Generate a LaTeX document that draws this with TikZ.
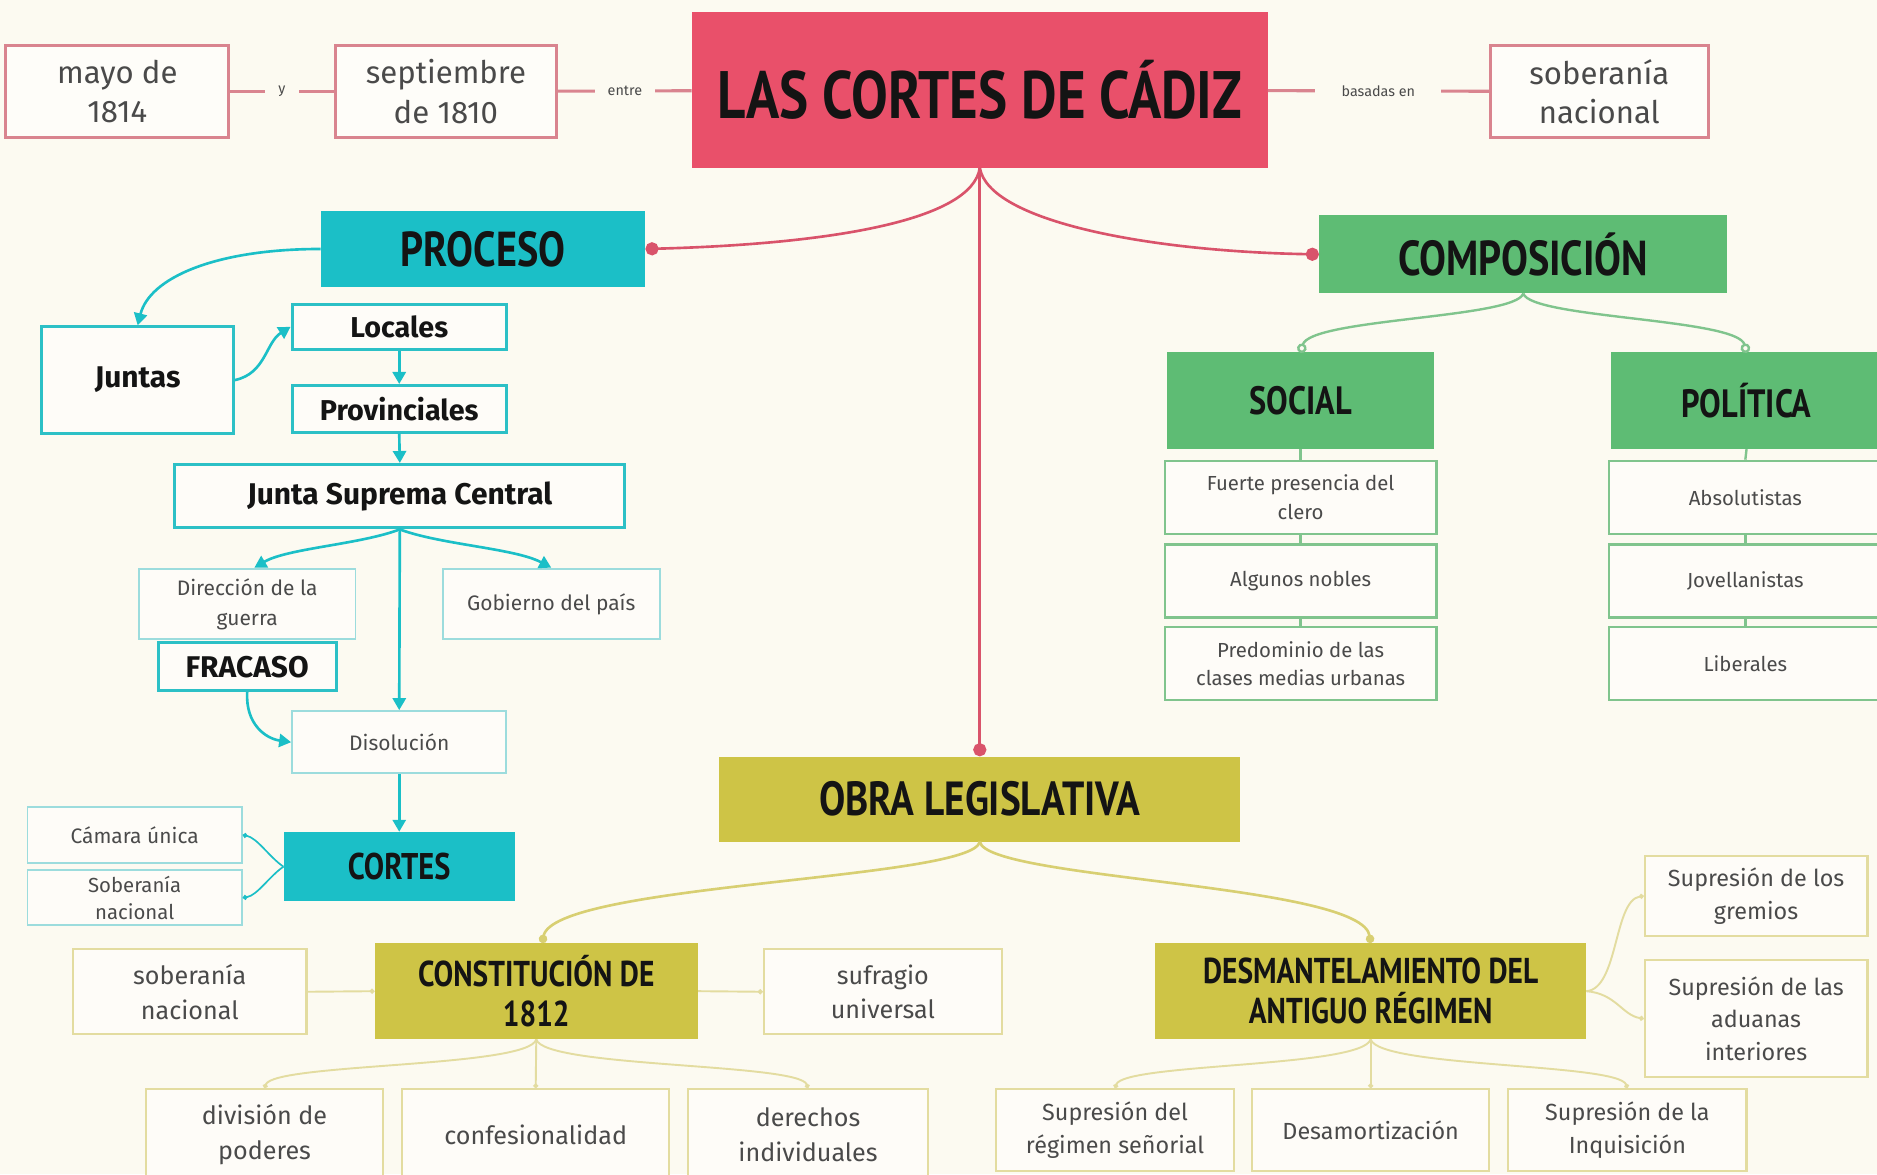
\documentclass[tikz,border=0pt]{standalone}
\usepackage{fontspec}
\setmainfont{Fira Sans}
\newfontfamily\hfont[FakeStretch=0.82]{PT Sans}
\usetikzlibrary{arrows.meta}
\definecolor{bg}{HTML}{FCFAF1}
\definecolor{redfill}{HTML}{E9506A}
\definecolor{redln}{HTML}{D9536B}
\definecolor{redbd}{HTML}{D9848F}
\definecolor{cyfill}{HTML}{1BBFC7}
\definecolor{cybd}{HTML}{2CC0C6}
\definecolor{cylt}{HTML}{9CDCDD}
\definecolor{grfill}{HTML}{5EBC74}
\definecolor{grbd}{HTML}{80C48D}
\definecolor{olfill}{HTML}{CEC446}
\definecolor{olbd}{HTML}{E3DCA0}
\definecolor{olln}{HTML}{D8CF72}
\definecolor{txt}{HTML}{4A4A4A}
\definecolor{htxt}{HTML}{141414}
\newcommand\fsz[2]{\fontsize{#1}{#2}\selectfont}
\tikzset{
  every node/.style={inner sep=0pt, align=center},
  redbox/.style={draw=redbd, line width=2.5pt, fill=white!60!bg, text=txt, font=\fsz{26}{33}},
  heada/.style={text=htxt, font=\hfont\bfseries},
  cybox/.style={draw=cybd, line width=2.5pt, fill=white!50!bg, text=htxt, font=\bfseries\fsz{25}{30}},
  cylbox/.style={draw=cylt, line width=1.6pt, fill=white!50!bg, text=txt, font=\fsz{17.5}{25}},
  grlbox/.style={draw=grbd, line width=2pt, fill=white!50!bg, text=txt, font=\fsz{17}{24}},
  ollbox/.style={draw=olbd, line width=1.8pt, fill=white!50!bg, text=txt, font=\fsz{21}{29}},
  lbl/.style={fill=bg, text=txt, font=\fsz{12}{14}, inner xsep=11pt, inner ysep=4pt},
  redc/.style={draw=redln, line width=2.2pt},
  topc/.style={draw=redbd, line width=2.6pt},
  cyc/.style={draw=cyfill, line width=2.2pt, -{Triangle[width=11pt,length=10pt]}},
  cyd/.style={draw=cyfill, line width=1.4pt, -{Circle[length=4pt]}},
  grc/.style={draw=grbd, line width=2pt},
  olc/.style={draw=olln, line width=2.2pt},
  olt/.style={draw=olbd, line width=1.6pt}
}
\begin{document}
\begin{tikzpicture}[x=1pt,y=-1pt]
\fill[bg] (0,0) rectangle (1568,981);
\useasboundingbox (0,0) rectangle (1568,981);

% ---------- top row ----------
\node[redbox, minimum width=186pt, minimum height=77pt] (mayo) at (98,76.5) {mayo de\\1814};
\node[redbox, minimum width=185pt, minimum height=77pt] (sept) at (372.5,76.5) {septiembre\\de 1810};
\node[fill=redfill, minimum width=481pt, minimum height=130pt, heada, font=\hfont\bfseries\fsz{56}{60}] (title) at (818.5,75) {LAS CORTES DE CÁDIZ};
\node[redbox, minimum width=182pt, minimum height=77pt] (sob) at (1336,76.5) {soberanía\\nacional};

\draw[topc] (mayo) -- node[lbl]{y} (sept);
\draw[topc] (sept) -- node[lbl]{entre} (title);
\draw[topc] (title) -- node[lbl, inner xsep=22pt]{basadas en} (sob);

% ---------- main branches ----------
\node[fill=cyfill, minimum width=271pt, minimum height=64pt, heada, font=\hfont\bfseries\fsz{41}{44}] (proceso) at (403.5,208) {PROCESO};
\node[fill=grfill, minimum width=341pt, minimum height=65pt, heada, font=\hfont\bfseries\fsz{41}{44}] (compo) at (1272.5,212.5) {COMPOSICIÓN};
\node[fill=olfill, minimum width=435pt, minimum height=71pt, heada, font=\hfont\bfseries\fsz{40}{44}] (obra) at (818.5,667.5) {OBRA LEGISLATIVA};

\draw[redc, -{Circle[length=11pt]}] (title.south) .. controls (812,185) and (690,204) .. (proceso.east);
\draw[redc, -{Circle[length=11pt]}] (title.south) .. controls (826,185) and (960,210) .. (compo.west);
\draw[redc, -{Circle[length=11pt]}] (title.south) -- (obra.north);

% ---------- PROCESO ----------
\node[cybox, minimum width=160pt, minimum height=89pt] (juntas) at (115,317.5) {Juntas};
\node[cybox, minimum width=179pt, minimum height=38pt, font=\bfseries\fsz{24}{28}] (locales) at (333.5,273) {Locales};
\node[cybox, minimum width=179pt, minimum height=39pt, font=\bfseries\fsz{24}{28}] (prov) at (333.5,341.5) {Provinciales};
\node[cybox, minimum width=376pt, minimum height=53pt] (jsc) at (334,414.5) {Junta Suprema Central};
\node[cylbox, minimum width=181pt, minimum height=59pt] (direc) at (206.5,504.5) {Dirección de la\\guerra};
\node[cylbox, minimum width=181pt, minimum height=59pt] (gob) at (460.5,504.5) {Gobierno del país};
\node[cybox, minimum width=149pt, minimum height=40pt] (fracaso) at (206.5,557) {FRACASO};
\node[cylbox, minimum width=179pt, minimum height=52pt] (disol) at (333.5,620) {Disolución};
\node[fill=cyfill, minimum width=193pt, minimum height=58pt, heada, font=\hfont\bfseries\fsz{31}{34}] (cortes) at (333.5,724) {CORTES};
\node[cylbox, minimum width=179pt, minimum height=47pt] (camara) at (112.5,697.5) {Cámara única};
\node[cylbox, minimum width=179pt, minimum height=46pt, font=\fsz{17}{23}] (sobc) at (112.5,750) {Soberanía\\nacional};

\draw[cyc] (proceso.west) .. controls (180,208) and (125,232) .. (juntas.north);
\draw[cyc] (juntas.east) .. controls (222,312) and (222,286) .. (locales.west);
\draw[cyc] (locales.south) -- (prov.north);
\draw[cyc] (prov.south) -- (jsc.north);
\draw[cyc] (jsc.south) .. controls (300,455) and (240,458) .. ([xshift=6pt]direc.north);
\draw[cyc] (jsc.south) .. controls (368,455) and (430,458) .. (gob.north);
\draw[cyc] (jsc.south) -- (disol.north);
\draw[cyc] (fracaso.south) .. controls (205,605) and (222,617) .. (disol.west);
\draw[cyc] (disol.south) -- (cortes.north);
\draw[cyd] (cortes.west) .. controls (225,716) and (215,700) .. (camara.east);
\draw[cyd] (cortes.west) .. controls (225,732) and (215,748) .. (sobc.east);

% ---------- COMPOSICIÓN ----------
\node[fill=grfill, minimum width=223pt, minimum height=81pt, heada, font=\hfont\bfseries\fsz{33}{36}] (social) at (1086.5,334.5) {SOCIAL};
\node[fill=grfill, minimum width=226pt, minimum height=81pt, heada, font=\hfont\bfseries\fsz{33}{36}] (polit) at (1459,334.5) {POLÍTICA};
\node[grlbox, minimum width=227pt, minimum height=61pt] (fuerte) at (1086.5,415.5) {Fuerte presencia del\\clero};
\node[grlbox, minimum width=227pt, minimum height=61pt] (nobles) at (1086.5,485.5) {Algunos nobles};
\node[grlbox, minimum width=227pt, minimum height=61pt] (predo) at (1086.5,554.5) {Predominio de las\\clases medias urbanas};
\node[grlbox, minimum width=228pt, minimum height=61pt] (absol) at (1458,415.5) {Absolutistas};
\node[grlbox, minimum width=228pt, minimum height=61pt] (jove) at (1458,485.5) {Jovellanistas};
\node[grlbox, minimum width=228pt, minimum height=61pt] (libe) at (1458,554.5) {Liberales};

\draw[grc, -{Circle[open,length=8pt]}] (compo.south) .. controls (1266,266) and (1094,266) .. ([yshift=-1pt]social.north);
\draw[grc, -{Circle[open,length=8pt]}] (compo.south) .. controls (1279,266) and (1452,266) .. ([yshift=-1pt]polit.north);
\draw[grc] (social.south) -- (fuerte.north);
\draw[grc] (fuerte.south) -- (nobles.north);
\draw[grc] (nobles.south) -- (predo.north);
\draw[grc] (polit.south) -- (absol.north);
\draw[grc] (absol.south) -- (jove.north);
\draw[grc] (jove.south) -- (libe.north);

% ---------- OBRA LEGISLATIVA ----------
\node[fill=olfill, minimum width=270pt, minimum height=80pt, heada, font=\hfont\bfseries\fsz{30}{33}] (const) at (448,828) {CONSTITUCIÓN DE\\1812};
\node[fill=olfill, minimum width=360pt, minimum height=80pt, heada, font=\hfont\bfseries\fsz{30}{33}] (desm) at (1145,828) {DESMANTELAMIENTO DEL\\ANTIGUO RÉGIMEN};
\node[ollbox, minimum width=195pt, minimum height=71pt] (sobn) at (158.5,828.5) {soberanía\\nacional};
\node[ollbox, minimum width=199pt, minimum height=71pt] (sufr) at (737.5,828.5) {sufragio\\universal};
\node[ollbox, minimum width=186pt, minimum height=67pt, font=\fsz{19.5}{28}] (grem) at (1467,748.5) {Supresión de los\\gremios};
\node[ollbox, minimum width=186pt, minimum height=98pt, font=\fsz{19.5}{27.5}] (adua) at (1467,851) {Supresión de las\\aduanas\\interiores};
\node[ollbox, minimum width=198pt, minimum height=76pt] (divi) at (221,948) {división de\\poderes};
\node[ollbox, minimum width=223pt, minimum height=76pt] (confe) at (447.5,948) {confesionalidad};
\node[ollbox, minimum width=200pt, minimum height=76pt] (dere) at (675,948) {derechos\\individuales};
\node[ollbox, minimum width=199pt, minimum height=68pt, font=\fsz{19.5}{27}] (seno) at (931.5,944) {Supresión del\\régimen señorial};
\node[ollbox, minimum width=198pt, minimum height=68pt, font=\fsz{19.5}{27}] (desa) at (1145,944) {Desamortización};
\node[ollbox, minimum width=199pt, minimum height=68pt, font=\fsz{19.5}{27}] (inqu) at (1359.5,944) {Supresión de la\\Inquisición};

\draw[olc, -{Circle[length=7pt]}] (obra.south) .. controls (812,735) and (462,738) .. ([xshift=5pt]const.north);
\draw[olc, -{Circle[length=7pt]}] (obra.south) .. controls (825,735) and (1138,738) .. (desm.north);
\draw[olt, -{Circle[length=4pt]}] (sobn.east) -- (const.west);
\draw[olt, -{Circle[length=4pt]}] (const.east) -- (sufr.west);
\draw[olt, -{Circle[length=4pt]}] (const.south) .. controls (442,892) and (228,888) .. (divi.north);
\draw[olt, -{Circle[length=4pt]}] (const.south) -- (confe.north);
\draw[olt, -{Circle[length=4pt]}] (const.south) .. controls (454,892) and (668,888) .. (dere.north);
\draw[olt, -{Circle[length=4pt]}] (desm.south) .. controls (1138,892) and (938,888) .. (seno.north);
\draw[olt, -{Circle[length=4pt]}] (desm.south) -- (desa.north);
\draw[olt, -{Circle[length=4pt]}] (desm.south) .. controls (1152,892) and (1352,888) .. (inqu.north);
\draw[olt, -{Circle[length=4pt]}] (desm.east) .. controls (1352,826) and (1348,752) .. (grem.west);
\draw[olt, -{Circle[length=4pt]}] (desm.east) .. controls (1350,830) and (1355,848) .. (adua.west);
\end{tikzpicture}
\end{document}
